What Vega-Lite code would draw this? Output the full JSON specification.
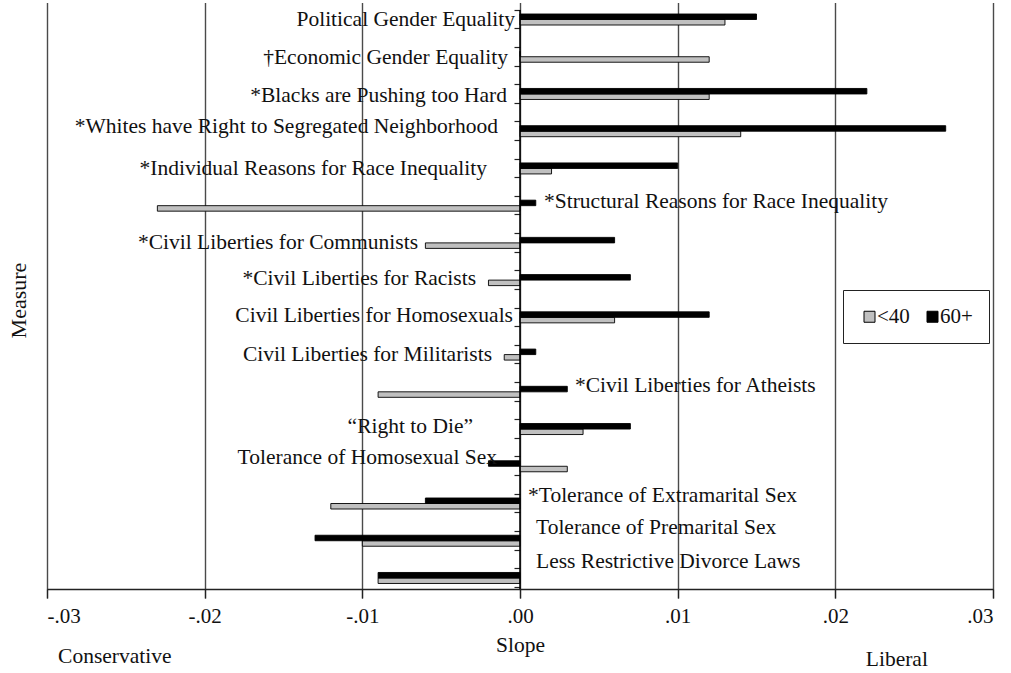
{
  "$schema": "https://vega.github.io/schema/vega-lite/v6.json",
  "autosize": "none",
  "width": 946,
  "height": 579,
  "padding": {"left": 47, "top": 10, "right": 18, "bottom": 84},
  "background": "white",
  "config": {
    "view": {"stroke": null},
    "font": "Liberation Serif",
    "text": {"font": "Liberation Serif", "fontSize": 21.5, "color": "#111"}
  },
  "datasets": {
    "bars": [
      {"measure": "Political Gender Equality", "group": "<40", "slope": 0.013},
      {"measure": "Political Gender Equality", "group": "60+", "slope": 0.015},
      {"measure": "†Economic Gender Equality", "group": "<40", "slope": 0.012},
      {"measure": "†Economic Gender Equality", "group": "60+", "slope": 0.0},
      {"measure": "*Blacks are Pushing too Hard", "group": "<40", "slope": 0.012},
      {"measure": "*Blacks are Pushing too Hard", "group": "60+", "slope": 0.022},
      {"measure": "*Whites have Right to Segregated Neighborhood", "group": "<40", "slope": 0.014},
      {"measure": "*Whites have Right to Segregated Neighborhood", "group": "60+", "slope": 0.027},
      {"measure": "*Individual Reasons for Race Inequality", "group": "<40", "slope": 0.002},
      {"measure": "*Individual Reasons for Race Inequality", "group": "60+", "slope": 0.010},
      {"measure": "*Structural Reasons for Race Inequality", "group": "<40", "slope": -0.023},
      {"measure": "*Structural Reasons for Race Inequality", "group": "60+", "slope": 0.001},
      {"measure": "*Civil Liberties for Communists", "group": "<40", "slope": -0.006},
      {"measure": "*Civil Liberties for Communists", "group": "60+", "slope": 0.006},
      {"measure": "*Civil Liberties for Racists", "group": "<40", "slope": -0.002},
      {"measure": "*Civil Liberties for Racists", "group": "60+", "slope": 0.007},
      {"measure": "Civil Liberties for Homosexuals", "group": "<40", "slope": 0.006},
      {"measure": "Civil Liberties for Homosexuals", "group": "60+", "slope": 0.012},
      {"measure": "Civil Liberties for Militarists", "group": "<40", "slope": -0.001},
      {"measure": "Civil Liberties for Militarists", "group": "60+", "slope": 0.001},
      {"measure": "*Civil Liberties for Atheists", "group": "<40", "slope": -0.009},
      {"measure": "*Civil Liberties for Atheists", "group": "60+", "slope": 0.003},
      {"measure": "“Right to Die”", "group": "<40", "slope": 0.004},
      {"measure": "“Right to Die”", "group": "60+", "slope": 0.007},
      {"measure": "Tolerance of Homosexual Sex", "group": "<40", "slope": 0.003},
      {"measure": "Tolerance of Homosexual Sex", "group": "60+", "slope": -0.002},
      {"measure": "*Tolerance of Extramarital Sex", "group": "<40", "slope": -0.012},
      {"measure": "*Tolerance of Extramarital Sex", "group": "60+", "slope": -0.006},
      {"measure": "Tolerance of Premarital Sex", "group": "<40", "slope": -0.010},
      {"measure": "Tolerance of Premarital Sex", "group": "60+", "slope": -0.013},
      {"measure": "Less Restrictive Divorce Laws", "group": "<40", "slope": -0.009},
      {"measure": "Less Restrictive Divorce Laws", "group": "60+", "slope": -0.009}
    ],
    "labels": [
      {"measure": "Political Gender Equality"},
      {"measure": "†Economic Gender Equality"},
      {"measure": "*Blacks are Pushing too Hard"},
      {"measure": "*Whites have Right to Segregated Neighborhood"},
      {"measure": "*Individual Reasons for Race Inequality"},
      {"measure": "*Structural Reasons for Race Inequality"},
      {"measure": "*Civil Liberties for Communists"},
      {"measure": "*Civil Liberties for Racists"},
      {"measure": "Civil Liberties for Homosexuals"},
      {"measure": "Civil Liberties for Militarists"},
      {"measure": "*Civil Liberties for Atheists"},
      {"measure": "“Right to Die”"},
      {"measure": "Tolerance of Homosexual Sex"},
      {"measure": "*Tolerance of Extramarital Sex"},
      {"measure": "Tolerance of Premarital Sex"},
      {"measure": "Less Restrictive Divorce Laws"}
    ],
    "one": [{"k": 1}]
  },
  "resolve": {"axis": {"y": "independent"}},
  "layer": [
    {
      "data": {"name": "bars"},
      "mark": {"type": "bar", "stroke": "#000", "strokeWidth": 0.9},
      "encoding": {
        "y": {
          "field": "measure", "type": "nominal", "sort": null,
          "scale": {"range": [-9.1, 586.6], "paddingInner": 0, "paddingOuter": 0},
          "axis": {
            "orient": "left", "offset": -473, "bandPosition": 0.25,
            "labels": false, "domain": false, "grid": false,
            "ticks": true, "tickSize": 6, "tickColor": "#222", "tickWidth": 1.2,
            "title": "Measure", "titleFont": "Liberation Serif", "titleFontSize": 22,
            "titleFontWeight": "normal", "titleColor": "#111",
            "titleX": -502, "titleY": 290, "titleAngle": -90, "titleAlign": "center", "titleBaseline": "middle"
          }
        },
        "yOffset": {
          "field": "group", "type": "nominal",
          "scale": {"domain": ["60+", "<40"], "range": [13.1, 24.1], "paddingInner": 0, "paddingOuter": 0}
        },
        "x": {
          "field": "slope", "type": "quantitative",
          "scale": {"domain": [-0.03, 0.03], "nice": false, "zero": false},
          "axis": {
            "values": [-0.03, -0.02, -0.01, 0, 0.01, 0.02, 0.03],
            "labelExpr": "replace(replace(format(datum.value, '.2f'), '0.', '.'), '−', '-')",
            "grid": true, "gridColor": "#4a4a4a", "gridWidth": 1.4,
            "domain": true, "domainColor": "#222", "domainWidth": 1.4,
            "ticks": true, "tickSize": 9, "tickColor": "#222", "tickWidth": 1.2,
            "labelFont": "Liberation Serif", "labelFontSize": 21, "labelColor": "#111",
            "labelPadding": 7, "labelBaseline": "top",
            "title": "Slope", "titleFont": "Liberation Serif", "titleFontSize": 21.5,
            "titleFontWeight": "normal", "titleColor": "#111", "titlePadding": 8
          }
        },
        "color": {
          "field": "group", "type": "nominal",
          "scale": {"domain": ["<40", "60+"], "range": ["#c0c0c0", "#000000"]},
          "legend": {
            "title": null, "orient": "none", "legendX": 796, "legendY": 280,
            "direction": "horizontal", "padding": 16,
            "strokeColor": "#222", "fillColor": "white",
            "symbolType": "square", "symbolSize": 121, "symbolStrokeColor": "#000", "symbolStrokeWidth": 1,
            "labelFont": "Liberation Serif", "labelFontSize": 21, "labelColor": "#111",
            "labelOffset": -3, "columnPadding": 12
          }
        }
      }
    },
    {
      "data": {"name": "one"},
      "mark": {"type": "rule", "color": "#000", "strokeWidth": 1.5},
      "encoding": {"x": {"datum": 0}}
    },
    {
      "data": {"name": "labels"},
      "transform": [{"filter": {"field": "measure", "equal": "Political Gender Equality"}}],
      "mark": {"type": "text", "align": "right", "baseline": "middle", "dx": -5, "dy": 0},
      "encoding": {
        "y": {"field": "measure", "type": "nominal", "sort": null,
          "axis": {"orient": "left", "offset": -473, "bandPosition": 0.75, "labels": false, "domain": false, "grid": false,
            "ticks": true, "tickSize": 6, "tickColor": "#222", "tickWidth": 1.2, "title": null}},
        "x": {"datum": 0},
        "text": {"field": "measure"}
      }
    },
    {
      "data": {"name": "labels"},
      "transform": [{"filter": {"field": "measure", "equal": "†Economic Gender Equality"}}],
      "mark": {"type": "text", "align": "right", "baseline": "middle", "dx": -12, "dy": 1},
      "encoding": {"y": {"field": "measure", "type": "nominal", "sort": null, "axis": null}, "x": {"datum": 0}, "text": {"field": "measure"}}
    },
    {
      "data": {"name": "labels"},
      "transform": [{"filter": {"field": "measure", "equal": "*Blacks are Pushing too Hard"}}],
      "mark": {"type": "text", "align": "right", "baseline": "middle", "dx": -13, "dy": 2},
      "encoding": {"y": {"field": "measure", "type": "nominal", "sort": null, "axis": null}, "x": {"datum": 0}, "text": {"field": "measure"}}
    },
    {
      "data": {"name": "labels"},
      "transform": [{"filter": {"field": "measure", "equal": "*Whites have Right to Segregated Neighborhood"}}],
      "mark": {"type": "text", "align": "right", "baseline": "middle", "dx": -22, "dy": -4},
      "encoding": {"y": {"field": "measure", "type": "nominal", "sort": null, "axis": null}, "x": {"datum": 0}, "text": {"field": "measure"}}
    },
    {
      "data": {"name": "labels"},
      "transform": [{"filter": {"field": "measure", "equal": "*Individual Reasons for Race Inequality"}}],
      "mark": {"type": "text", "align": "right", "baseline": "middle", "dx": -33, "dy": 1},
      "encoding": {"y": {"field": "measure", "type": "nominal", "sort": null, "axis": null}, "x": {"datum": 0}, "text": {"field": "measure"}}
    },
    {
      "data": {"name": "labels"},
      "transform": [{"filter": {"field": "measure", "equal": "*Structural Reasons for Race Inequality"}}],
      "mark": {"type": "text", "align": "left", "baseline": "middle", "dx": 24, "dy": -4},
      "encoding": {"y": {"field": "measure", "type": "nominal", "sort": null, "axis": null}, "x": {"datum": 0}, "text": {"field": "measure"}}
    },
    {
      "data": {"name": "labels"},
      "transform": [{"filter": {"field": "measure", "equal": "*Civil Liberties for Communists"}}],
      "mark": {"type": "text", "align": "right", "baseline": "middle", "dx": -102, "dy": 0},
      "encoding": {"y": {"field": "measure", "type": "nominal", "sort": null, "axis": null}, "x": {"datum": 0}, "text": {"field": "measure"}}
    },
    {
      "data": {"name": "labels"},
      "transform": [{"filter": {"field": "measure", "equal": "*Civil Liberties for Racists"}}],
      "mark": {"type": "text", "align": "right", "baseline": "middle", "dx": -44, "dy": -1},
      "encoding": {"y": {"field": "measure", "type": "nominal", "sort": null, "axis": null}, "x": {"datum": 0}, "text": {"field": "measure"}}
    },
    {
      "data": {"name": "labels"},
      "transform": [{"filter": {"field": "measure", "equal": "Civil Liberties for Homosexuals"}}],
      "mark": {"type": "text", "align": "right", "baseline": "middle", "dx": -7, "dy": -1},
      "encoding": {"y": {"field": "measure", "type": "nominal", "sort": null, "axis": null}, "x": {"datum": 0}, "text": {"field": "measure"}}
    },
    {
      "data": {"name": "labels"},
      "transform": [{"filter": {"field": "measure", "equal": "Civil Liberties for Militarists"}}],
      "mark": {"type": "text", "align": "right", "baseline": "middle", "dx": -28, "dy": 0},
      "encoding": {"y": {"field": "measure", "type": "nominal", "sort": null, "axis": null}, "x": {"datum": 0}, "text": {"field": "measure"}}
    },
    {
      "data": {"name": "labels"},
      "transform": [{"filter": {"field": "measure", "equal": "*Civil Liberties for Atheists"}}],
      "mark": {"type": "text", "align": "left", "baseline": "middle", "dx": 55, "dy": -6},
      "encoding": {"y": {"field": "measure", "type": "nominal", "sort": null, "axis": null}, "x": {"datum": 0}, "text": {"field": "measure"}}
    },
    {
      "data": {"name": "labels"},
      "transform": [{"filter": {"field": "measure", "equal": "“Right to Die”"}}],
      "mark": {"type": "text", "align": "right", "baseline": "middle", "dx": -47, "dy": -2},
      "encoding": {"y": {"field": "measure", "type": "nominal", "sort": null, "axis": null}, "x": {"datum": 0}, "text": {"field": "measure"}}
    },
    {
      "data": {"name": "labels"},
      "transform": [{"filter": {"field": "measure", "equal": "Tolerance of Homosexual Sex"}}],
      "mark": {"type": "text", "align": "right", "baseline": "middle", "dx": -23, "dy": -8},
      "encoding": {"y": {"field": "measure", "type": "nominal", "sort": null, "axis": null}, "x": {"datum": 0}, "text": {"field": "measure"}}
    },
    {
      "data": {"name": "labels"},
      "transform": [{"filter": {"field": "measure", "equal": "*Tolerance of Extramarital Sex"}}],
      "mark": {"type": "text", "align": "left", "baseline": "middle", "dx": 8, "dy": -8},
      "encoding": {"y": {"field": "measure", "type": "nominal", "sort": null, "axis": null}, "x": {"datum": 0}, "text": {"field": "measure"}}
    },
    {
      "data": {"name": "labels"},
      "transform": [{"filter": {"field": "measure", "equal": "Tolerance of Premarital Sex"}}],
      "mark": {"type": "text", "align": "left", "baseline": "middle", "dx": 16, "dy": -13},
      "encoding": {"y": {"field": "measure", "type": "nominal", "sort": null, "axis": null}, "x": {"datum": 0}, "text": {"field": "measure"}}
    },
    {
      "data": {"name": "labels"},
      "transform": [{"filter": {"field": "measure", "equal": "Less Restrictive Divorce Laws"}}],
      "mark": {"type": "text", "align": "left", "baseline": "middle", "dx": 16, "dy": -16},
      "encoding": {"y": {"field": "measure", "type": "nominal", "sort": null, "axis": null}, "x": {"datum": 0}, "text": {"field": "measure"}}
    },
    {
      "data": {"name": "one"},
      "mark": {"type": "text", "text": "Conservative", "align": "center", "baseline": "middle", "fontSize": 21.5, "y": {"expr": "height"}, "dy": 68},
      "encoding": {"x": {"datum": -0.0257}}
    },
    {
      "data": {"name": "one"},
      "mark": {"type": "text", "text": "Liberal", "align": "center", "baseline": "middle", "fontSize": 21.5, "y": {"expr": "height"}, "dy": 71},
      "encoding": {"x": {"datum": 0.0239}}
    }
  ]
}
